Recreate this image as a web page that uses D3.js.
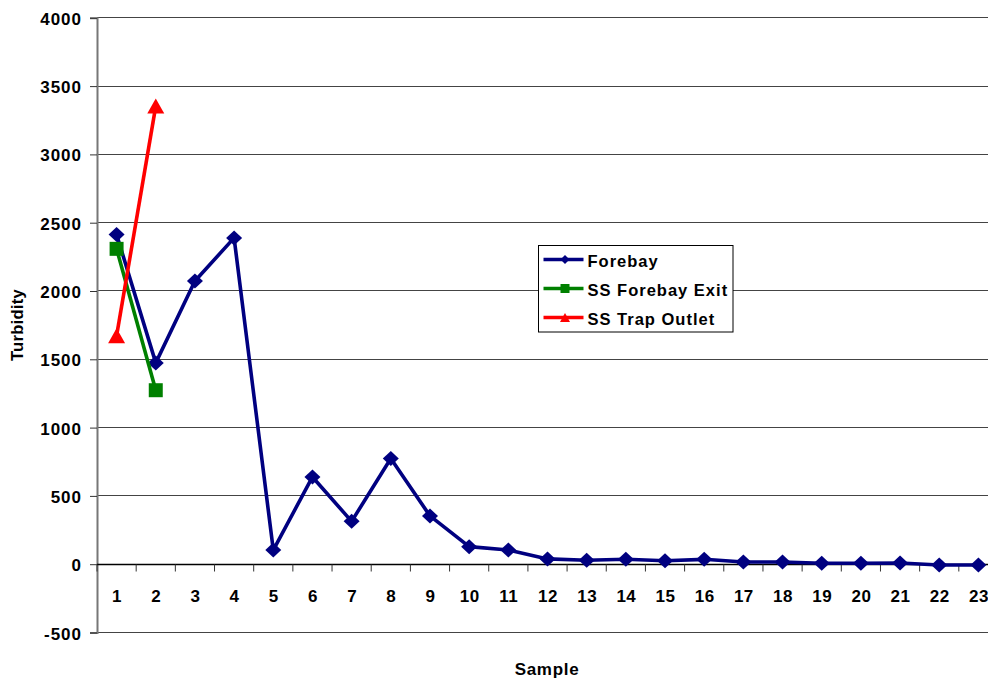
<!DOCTYPE html>
<html>
<head>
<meta charset="utf-8">
<script src="https://cdn.jsdelivr.net/npm/d3@7"></script>
<style>
  html, body { margin: 0; padding: 0; background: #fff; }
  svg { display: block; font-family: "Liberation Sans", Arial, sans-serif; }
</style>
</head>
<body>
<svg id="chart" width="988" height="679"></svg>
<script>
// Sample numbers along the x axis
const samples = d3.range(1, 24);

// Turbidity readings per sample
const forebay = [2410, 1470, 2070, 2385, 100, 635, 310, 770, 350, 125, 100, 35, 25, 33, 22, 32, 12, 12, 3, 3, 5, -10, -10];
const ssForebayExit = [2305, 1270];
const ssTrapOutlet = [1668, 3350];

const yTicks = [-500, 0, 500, 1000, 1500, 2000, 2500, 3000, 3500, 4000];

// Marker outlines (w = width, h = height) centred on the point
const markerPath = {
  diamond: (w, h) => `M0,${-h / 2}L${w / 2},0L0,${h / 2}L${-w / 2},0Z`,
  square: (w, h) => `M${-w / 2},${-h / 2}H${w / 2}V${h / 2}H${-w / 2}Z`,
  triangle: (w, h) => `M0,${-h / 2}L${w / 2},${h / 2}L${-w / 2},${h / 2}Z`
};

const seriesList = [
  { name: "Forebay", values: forebay, color: "#000080", marker: "diamond", mw: 16, mh: 15, lw: 9, lh: 9 },
  { name: "SS Forebay Exit", values: ssForebayExit, color: "#008000", marker: "square", mw: 14, mh: 14, lw: 9, lh: 9 },
  { name: "SS Trap Outlet", values: ssTrapOutlet, color: "#FF0000", marker: "triangle", mw: 17, mh: 15, lw: 10, lh: 9 }
];

const svg = d3.select("#chart");
const plotLeft = 97, plotRight = 998, plotTop = 17.3, plotBottom = 632;

const x = d3.scaleBand().domain(samples).range([plotLeft, plotRight]);
const y = d3.scaleLinear().domain([-500, 4000]).range([plotBottom, plotTop]);
const cx = d => x(d) + x.bandwidth() / 2;

// Horizontal gridlines
svg.append("g").selectAll("line").data(yTicks.filter(d => d !== 0)).join("line")
  .attr("x1", plotLeft).attr("x2", plotRight)
  .attr("y1", d => Math.round(y(d)) + 0.5).attr("y2", d => Math.round(y(d)) + 0.5)
  .attr("stroke", "#444").attr("stroke-width", 1);

// Y axis (plain hyphen for negatives)
const yAxis = svg.append("g").attr("transform", `translate(${plotLeft},0.5)`)
  .call(d3.axisLeft(y).tickValues(yTicks).tickFormat(d => String(d)).tickSize(7).tickPadding(0));
yAxis.select(".domain").attr("stroke", "#777").attr("stroke-width", 2);
yAxis.selectAll(".tick line").attr("stroke", "#333");
yAxis.selectAll("text")
  .attr("x", -15).attr("dy", 6.5)
  .attr("font-size", 17).attr("font-weight", "bold").attr("letter-spacing", 1)
  .attr("fill", "#000").attr("font-family", "Liberation Sans, Arial, sans-serif");

// X axis drawn at zero, with ticks between categories
const y0 = Math.round(y(0)) + 0.5;
const xg = svg.append("g").attr("transform", `translate(0,${y0})`);
xg.append("line").attr("x1", plotLeft).attr("x2", plotRight).attr("stroke", "#000").attr("stroke-width", 1.5);
xg.selectAll("line.tk").data(d3.range(0, samples.length + 1)).join("line").attr("class", "tk")
  .attr("x1", i => plotLeft + i * x.bandwidth()).attr("x2", i => plotLeft + i * x.bandwidth())
  .attr("y1", 0).attr("y2", 7).attr("stroke", "#333");
xg.selectAll("text").data(samples).join("text")
  .attr("x", d => cx(d) + 0.5).attr("y", 37)
  .attr("text-anchor", "middle").attr("font-size", 17).attr("font-weight", "bold").attr("letter-spacing", 0.5)
  .text(d => d);

// Series lines and markers
const line = d3.line().x((d, i) => cx(samples[i])).y(d => y(d));
seriesList.forEach(s => {
  svg.append("path").datum(s.values).attr("d", line)
    .attr("fill", "none").attr("stroke", s.color).attr("stroke-width", 3.6).attr("stroke-linejoin", "round");
  svg.append("g").selectAll("path").data(s.values).join("path")
    .attr("transform", (d, i) => `translate(${cx(samples[i])},${y(d)})`)
    .attr("d", markerPath[s.marker](s.mw, s.mh))
    .attr("fill", s.color);
});

// Axis titles
svg.append("text").attr("x", 547).attr("y", 675).attr("text-anchor", "middle")
  .attr("font-size", 17).attr("font-weight", "bold").attr("letter-spacing", 0.7).text("Sample");
svg.append("text").attr("transform", "translate(23,325) rotate(-90)").attr("text-anchor", "middle")
  .attr("font-size", 16.5).attr("font-weight", "bold").attr("letter-spacing", 0.3).text("Turbidity");

// Legend
const lg = svg.append("g").attr("transform", "translate(538.5,245.5)");
lg.append("rect").attr("width", 194.5).attr("height", 86.5).attr("fill", "#fff").attr("stroke", "#000").attr("stroke-width", 1);
seriesList.forEach((s, i) => {
  const ly = 14 + i * 29;
  lg.append("line").attr("x1", 5).attr("x2", 45).attr("y1", ly).attr("y2", ly)
    .attr("stroke", s.color).attr("stroke-width", 3.3);
  lg.append("path").attr("transform", `translate(26.5,${ly})`)
    .attr("d", markerPath[s.marker](s.lw, s.lh)).attr("fill", s.color);
  lg.append("text").attr("x", 49).attr("y", ly + 7).attr("font-size", 16.5).attr("font-weight", "bold")
    .attr("letter-spacing", 1.0).text(s.name);
});
</script>
</body>
</html>
